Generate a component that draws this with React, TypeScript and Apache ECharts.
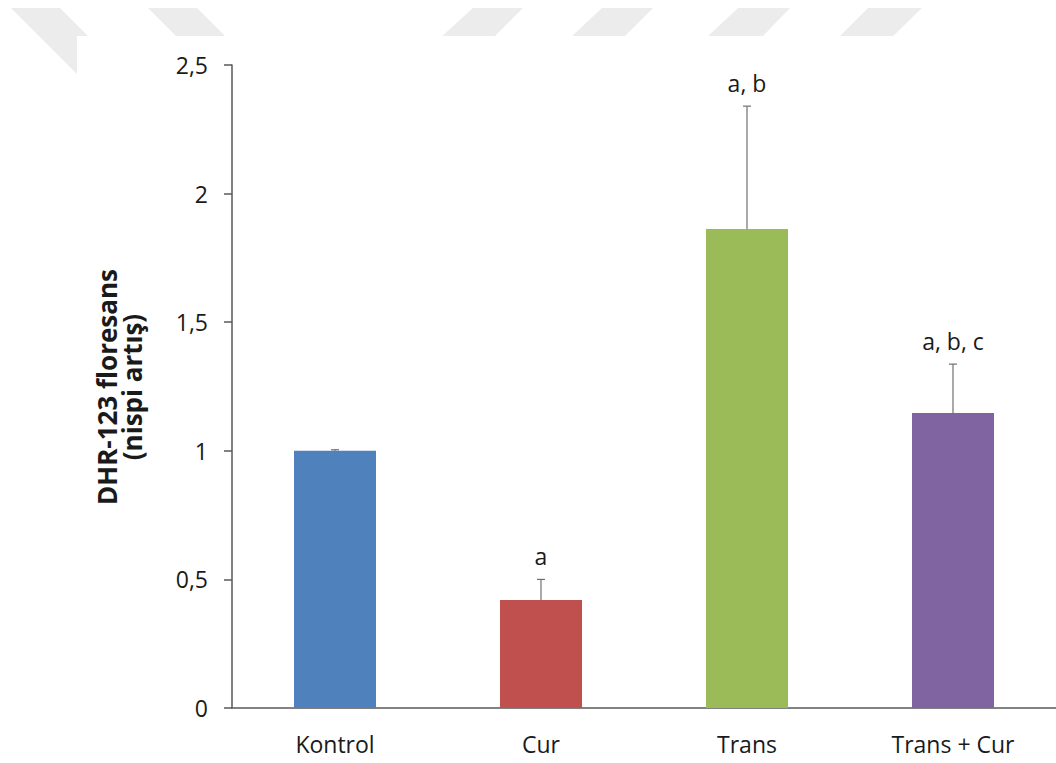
import React, { useEffect, useRef } from "react";
import * as echarts from "echarts";

// Groups and measurements
const categories = ["Kontrol", "Cur", "Trans", "Trans + Cur"];
const means = [1.0, 0.42, 1.862, 1.147];
const errors = [0.004, 0.08, 0.478, 0.19];
const significance = ["", "a", "a, b", "a, b, c"];
const barColors = ["#4F81BD", "#C0504D", "#9BBB59", "#8064A2"];
const yTicks = { min: 0, max: 2.5, step: 0.5 };

const FONT = "'Open Sans', 'DejaVu Sans', sans-serif";
const TEXT = "#1a1a1a";
const AXIS = "#595959";

// Light grey slanted bands across the top edge
const bandFill = "#ececec";
const bands: number[][][] = [
  [[11, 8], [60, 8], [132, 80], [83, 80]],
  [[148, 8], [197, 8], [227, 38], [178, 38]],
  [[473, 8], [523, 8], [493, 38], [440, 38]],
  [[602, 8], [653, 8], [623, 38], [570, 38]],
  [[738, 8], [790, 8], [761, 38], [706, 38]],
  [[868, 8], [922, 8], [891, 38], [838, 38]],
];

export default function App() {
  const ref = useRef<HTMLDivElement>(null);

  useEffect(() => {
    if (!ref.current) return;
    const chart = echarts.init(ref.current, null, { renderer: "svg" });

    const graphic: any[] = bands.map((pts) => ({
      type: "polygon",
      z: -20,
      shape: { points: pts },
      style: { fill: bandFill },
      silent: true,
    }));
    graphic.push({
      type: "rect",
      z: -10,
      shape: { x: 77, y: 36, width: 1056 - 77, height: 763 - 36 },
      style: { fill: "#ffffff" },
      silent: true,
    });
    graphic.push({
      type: "text",
      z: 10,
      x: 119,
      y: 387,
      rotation: Math.PI / 2,
      style: {
        text: "DHR-123 floresans\n(nispi artış)",
        fontFamily: FONT,
        fontSize: 26,
        fontWeight: "bold",
        fill: TEXT,
        align: "center",
        verticalAlign: "middle",
        lineHeight: 25,
      },
    });

    chart.setOption({
      animation: false,
      backgroundColor: "#ffffff",
      graphic,
      grid: { left: 232, top: 65, width: 825, height: 643 },
      xAxis: {
        type: "category",
        data: categories,
        axisTick: { show: false },
        axisLine: { lineStyle: { color: AXIS, width: 1.5 } },
        axisLabel: {
          margin: 24,
          fontFamily: FONT,
          fontSize: 23,
          color: TEXT,
        },
      },
      yAxis: {
        type: "value",
        min: yTicks.min,
        max: yTicks.max,
        interval: yTicks.step,
        splitLine: { show: false },
        axisLine: { show: true, lineStyle: { color: AXIS, width: 1.5 } },
        axisTick: { show: true, length: 8, lineStyle: { color: AXIS, width: 1.5 } },
        axisLabel: {
          margin: 24,
          fontFamily: FONT,
          fontSize: 23,
          color: TEXT,
          formatter: (v: number) => String(v).replace(".", ","),
        },
      },
      series: [
        {
          type: "bar",
          barWidth: 82,
          data: means.map((v, i) => ({ value: v, itemStyle: { color: barColors[i] } })),
        },
        {
          type: "custom",
          z: 5,
          data: means.map((m, i) => [i, m, errors[i]]),
          renderItem: (params: any, api: any) => {
            const i = api.value(0);
            const m = api.value(1);
            const e = api.value(2);
            const base = api.coord([i, m]);
            const top = api.coord([i, m + e]);
            const cap = 4;
            const children: any[] = [
              {
                type: "line",
                shape: { x1: base[0], y1: base[1], x2: top[0], y2: top[1] },
                style: { stroke: "#6f6f6f", lineWidth: 1.2 },
              },
              {
                type: "line",
                shape: { x1: top[0] - cap, y1: top[1], x2: top[0] + cap, y2: top[1] },
                style: { stroke: "#6f6f6f", lineWidth: 1.2 },
              },
            ];
            const label = significance[params.dataIndex];
            if (label) {
              children.push({
                type: "text",
                x: top[0],
                y: top[1] - 23,
                style: {
                  text: label,
                  fontFamily: FONT,
                  fontSize: 23,
                  fill: TEXT,
                  align: "center",
                  verticalAlign: "middle",
                },
              });
            }
            return { type: "group", children };
          },
        },
      ],
    });

    return () => chart.dispose();
  }, []);

  return (
    <div
      ref={ref}
      style={{ position: "fixed", left: 0, top: 0, width: 1056, height: 763 }}
    />
  );
}
